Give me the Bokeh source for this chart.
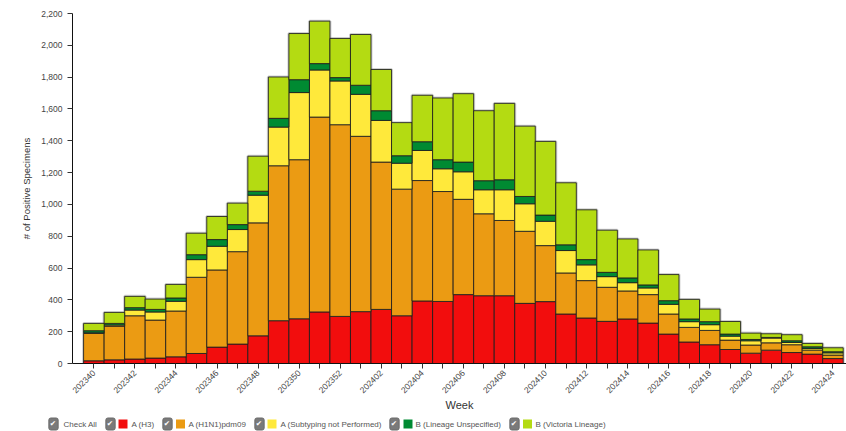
from math import pi
from bokeh.plotting import figure
from bokeh.models import ColumnDataSource, Range1d, FixedTicker, NumeralTickFormatter
from bokeh.layouts import column
from bokeh.embed import file_html
from bokeh.resources import INLINE
from bokeh.core.properties import value

weeks = ["202340", "202341", "202342", "202343", "202344", "202345", "202346",
         "202347", "202348", "202349", "202350", "202351", "202352", "202401",
         "202402", "202403", "202404", "202405", "202406", "202407", "202408",
         "202409", "202410", "202411", "202412", "202413", "202414", "202415",
         "202416", "202417", "202418", "202419", "202420", "202421", "202422",
         "202423", "202424"]

a_h3 = [17, 23, 28, 34, 42, 63, 103, 122, 174, 269, 281, 324, 296, 326, 340, 300,
        393, 390, 433, 426, 426, 378, 389, 311, 286, 265, 280, 254, 185, 135, 118,
        88, 65, 84, 69, 59, 31]
a_h1n1 = [172, 212, 272, 239, 288, 479, 485, 581, 710, 974, 1000, 1225, 1205, 1102,
          926, 796, 757, 691, 599, 515, 473, 453, 352, 258, 235, 214, 176, 179, 126,
          92, 90, 59, 51, 46, 49, 25, 22]
a_not_subtyped = [4, 7, 36, 51, 61, 111, 149, 139, 174, 243, 422, 296, 275, 264, 262,
                  163, 189, 143, 173, 151, 193, 173, 153, 141, 99, 67, 52, 42, 61, 36,
                  36, 25, 27, 30, 14, 10, 14]
b_unspecified = [13, 10, 15, 16, 21, 31, 42, 31, 25, 55, 81, 40, 21, 57, 61, 47, 55,
                 57, 61, 57, 63, 46, 39, 36, 33, 27, 30, 19, 23, 17, 19, 13, 8, 4, 11,
                 11, 7]
b_victoria = [46, 69, 71, 65, 85, 135, 145, 135, 220, 260, 290, 267, 246, 319, 259,
              208, 292, 388, 430, 440, 480, 442, 463, 390, 313, 265, 245, 220, 164,
              123, 79, 79, 40, 23, 38, 21, 25]

series_keys = ["a_h3", "a_h1n1", "a_not_subtyped", "b_unspecified", "b_victoria"]
series_labels = ["A (H3)", "A (H1N1)pdm09", "A (Subtyping not Performed)",
                 "B (Lineage Unspecified)", "B (Victoria Lineage)"]
series_colors = ["#f20d0d", "#eb9b13", "#ffe93b", "#008a32", "#b4db12"]

idx = list(range(len(weeks)))
totals = [a + b + c + d + e for a, b, c, d, e in
          zip(a_h3, a_h1n1, a_not_subtyped, b_unspecified, b_victoria)]
src = ColumnDataSource(dict(x=idx, week=weeks, a_h3=a_h3, a_h1n1=a_h1n1,
                            a_not_subtyped=a_not_subtyped,
                            b_unspecified=b_unspecified, b_victoria=b_victoria,
                            total=totals))

FONT = "Liberation Sans"
LEFT = 72

p = figure(width=846, height=416, output_backend="svg", toolbar_location=None,
           x_range=Range1d(-1.04, len(weeks) - 0.34), y_range=Range1d(0, 2200),
           min_border_left=LEFT, min_border_top=13, min_border_right=0,
           min_border_bottom=53)
p.outline_line_color = None
p.grid.visible = False
p.background_fill_color = "white"

# soft shadow around each stack
p.vbar(x="x", top="total", bottom=0, width=1.0, source=src, fill_color=None,
       line_color="#999999", line_alpha=0.45, line_width=3)
p.vbar_stack(series_keys, x="x", width=1.0, source=src, color=series_colors,
             line_color="#1e1e1e", line_alpha=0.85, line_width=1)

p.xaxis.ticker = FixedTicker(ticks=idx)
p.xaxis.major_label_overrides = {i: (w if i % 2 == 0 else "") for i, w in enumerate(weeks)}
p.xaxis.major_label_orientation = pi / 4
p.xaxis.minor_tick_line_color = None
p.yaxis.ticker = FixedTicker(ticks=list(range(0, 2201, 200)))
p.yaxis.formatter = NumeralTickFormatter(format="0,0")
p.yaxis.minor_tick_line_color = None

p.xaxis.axis_label = "Week"
p.yaxis.axis_label = "# of Positive Specimens"
for ax in (p.xaxis[0], p.yaxis[0]):
    ax.axis_line_color = "#111111"
    ax.major_tick_line_color = "#333333"
    ax.major_tick_out = 5
    ax.major_tick_in = 0
    ax.major_label_text_font = FONT
    ax.major_label_text_font_size = "8.5px"
    ax.major_label_text_color = "#444444"
    ax.axis_label_text_font = FONT
    ax.axis_label_text_font_style = "normal"
    ax.axis_label_text_color = "#333333"
p.xaxis.axis_label_text_font_size = "11px"
p.yaxis.axis_label_text_font_size = "9.5px"
p.xaxis.major_label_standoff = 3
p.xaxis.axis_label_standoff = 0
p.yaxis.axis_label_standoff = 6

# legend row (imitating check boxes); its frame is aligned with the chart's,
# so the x range is given in page pixels and the marks are drawn unclipped.
lg = figure(width=846, height=15, output_backend="svg", toolbar_location=None,
            x_range=Range1d(LEFT, 846), y_range=Range1d(0, 15),
            min_border_left=LEFT, min_border_right=0, min_border_top=0,
            min_border_bottom=0, x_axis_type=None, y_axis_type=None)
lg.outline_line_color = None
lg.grid.visible = False

box_x = [53, 110, 167, 259, 394, 514]
sq_x = [122.5, 180, 271.5, 407.5, 527]
txt_x = [63, 131, 188, 280, 415, 535]
ly = 7.5
lg.text(x=box_x, y=[ly] * 6, text=["✔"] * 6, text_color="white",
        text_font=value("DejaVu Sans"), text_font_size="7.5px", text_align="center",
        text_baseline="middle", background_fill_color="#7a7a7a",
        border_line_color="#6a6a6a", padding=[1, 2, 1, 2], border_radius=2,
        level="overlay")
lg.scatter(x=sq_x, y=[ly] * 5, marker="square", size=9, fill_color=series_colors,
           line_color=None, level="overlay")
lg.text(x=txt_x, y=[ly] * 6, text=["Check All"] + series_labels, text_color="#555555",
        text_font=value(FONT), text_font_size="8px", text_align="left",
        text_baseline="middle", level="overlay")

layout = column(p, lg, spacing=0)
open("out.html", "w").write(file_html(layout, INLINE))
